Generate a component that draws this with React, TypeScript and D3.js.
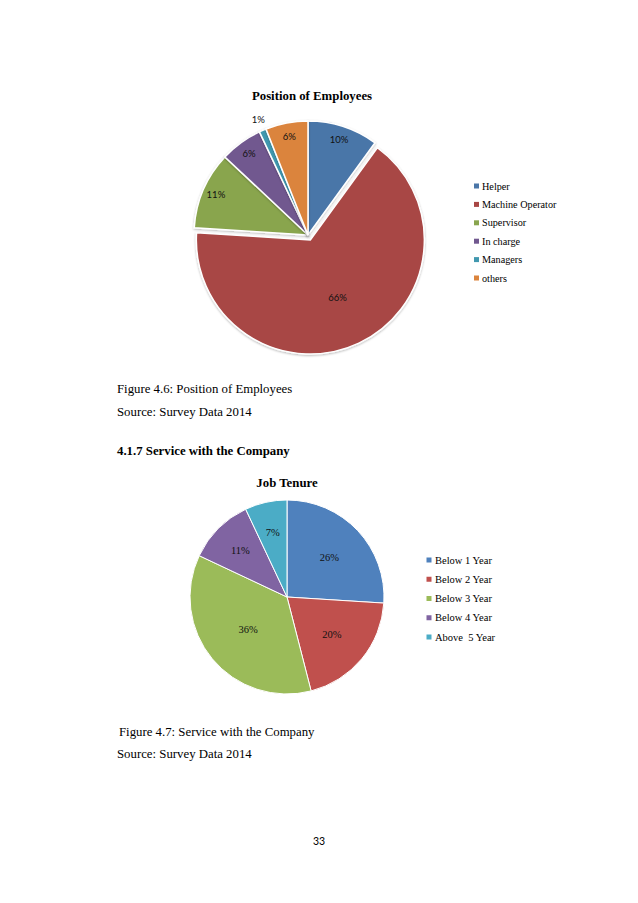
import React from 'react';
import * as d3 from 'd3';

// Figure 4.6 data
const positionLabels = ['Helper', 'Machine Operator', 'Supervisor', 'In charge', 'Managers', 'others'];
const positionValues = [10, 66, 11, 6, 1, 6];
const positionColors = ['#4a76a8', '#a84644', '#89a54e', '#71588f', '#4198af', '#db843d'];

// Figure 4.7 data
const tenureLabels = ['Below 1 Year', 'Below 2 Year', 'Below 3 Year', 'Below 4 Year', 'Above  5 Year'];
const tenureValues = [26, 20, 36, 11, 7];
const tenureColors = ['#4f81bd', '#c0504d', '#9bbb59', '#8064a2', '#4bacc6'];

const serif = '"Liberation Serif", "Times New Roman", serif';
const sans = 'Lato, "Liberation Sans", sans-serif';

type Slice = d3.PieArcDatum<number>;

const pie = d3.pie<number>().sort(null).value((d) => d);

const App: React.FC = () => {
  // chart 1 geometry
  const c1 = { x: 308, y: 235, r: 114 };
  const arc1 = d3.arc<Slice>().innerRadius(0).outerRadius(c1.r);
  const slices1 = pie(positionValues);
  const explodeIdx = 1;
  const explode = 5.5;

  const labelRadius1 = (v: number) => (v >= 50 ? 0.56 : v < 3 ? 1.1 : 0.88) * c1.r;

  // chart 2 geometry
  const c2 = { x: 287, y: 597, r: 97 };
  const arc2 = d3.arc<Slice>().innerRadius(0).outerRadius(c2.r);
  const slices2 = pie(tenureValues);
  const labelRadius2 = (v: number) => (v >= 30 ? 0.52 : v >= 15 ? 0.6 : 0.68) * c2.r;

  const offset = (s: Slice, dist: number) => {
    const a = (s.startAngle + s.endAngle) / 2;
    return [Math.sin(a) * dist, -Math.cos(a) * dist];
  };

  const legend1 = d3.scalePoint<string>().domain(positionLabels).range([186, 278]);
  const legend2 = d3.scalePoint<string>().domain(tenureLabels).range([560, 637]);

  return (
    <svg
      width={638}
      height={903}
      viewBox="0 0 638 903"
      style={{ position: 'absolute', left: 0, top: 0, background: '#fff' }}
    >
      <defs>
        <filter id="shadow" x="-20%" y="-20%" width="140%" height="140%">
          <feDropShadow dx="0" dy="1" stdDeviation="1.2" floodColor="#000" floodOpacity="0.28" />
        </filter>
      </defs>
      <rect width={638} height={903} fill="#fff" />

      {/* Figure 4.6 */}
      <text x={312} y={100} textAnchor="middle" fontFamily={serif} fontWeight="bold" fontSize={12.8} fill="#000">
        Position of Employees
      </text>
      <g transform={`translate(${c1.x},${c1.y})`}>
        {slices1.map((s, i) => {
          const [ox, oy] = i === explodeIdx ? offset(s, explode) : [0, 0];
          return (
            <path
              key={i}
              d={arc1(s) || ''}
              transform={`translate(${ox},${oy})`}
              fill={positionColors[i]}
              stroke="#fff"
              strokeWidth={1.5}
              filter="url(#shadow)"
            />
          );
        })}
        {slices1.map((s, i) => {
          const [ox, oy] = i === explodeIdx ? offset(s, explode) : [0, 0];
          const [lx, ly] = offset(s, labelRadius1(s.data));
          return (
            <text
              key={i}
              x={lx + ox}
              y={ly + oy}
              dy="0.35em"
              textAnchor="middle"
              fontFamily={sans}
              fontSize={9.5}
              fill="#111"
            >
              {positionValues[i]}%
            </text>
          );
        })}
      </g>
      {positionLabels.map((name, i) => (
        <g key={name} transform={`translate(474,${legend1(name)})`}>
          <rect x={0} y={-2.5} width={5} height={5} fill={positionColors[i]} />
          <text x={8} y={0} dy="0.35em" fontFamily={serif} fontSize={10.2} fill="#000">
            {name}
          </text>
        </g>
      ))}

      <text x={117} y={393} fontFamily={serif} fontSize={12.8} fill="#000">
        Figure 4.6: Position of Employees
      </text>
      <text x={117} y={415.5} fontFamily={serif} fontSize={12.8} fill="#000">
        Source: Survey Data 2014
      </text>
      <text x={117} y={455} fontFamily={serif} fontWeight="bold" fontSize={12.8} fill="#000">
        4.1.7 Service with the Company
      </text>

      {/* Figure 4.7 */}
      <text x={287} y={486.5} textAnchor="middle" fontFamily={serif} fontWeight="bold" fontSize={12.8} fill="#000">
        Job Tenure
      </text>
      <g transform={`translate(${c2.x},${c2.y})`}>
        {slices2.map((s, i) => (
          <path key={i} d={arc2(s) || ''} fill={tenureColors[i]} stroke="#fff" strokeWidth={1} />
        ))}
        {slices2.map((s, i) => {
          const [lx, ly] = offset(s, labelRadius2(s.data));
          return (
            <text
              key={i}
              x={lx}
              y={ly}
              dy="0.35em"
              textAnchor="middle"
              fontFamily={serif}
              fontSize={10.5}
              fill="#111"
            >
              {tenureValues[i]}%
            </text>
          );
        })}
      </g>
      {tenureLabels.map((name, i) => (
        <g key={name} transform={`translate(426.5,${legend2(name)})`}>
          <rect x={0} y={-2.5} width={5} height={5} fill={tenureColors[i]} />
          <text x={8.5} y={0} dy="0.35em" fontFamily={serif} fontSize={10.5} fill="#000" style={{ whiteSpace: 'pre' }}>
            {name}
          </text>
        </g>
      ))}

      <text x={119} y={736} fontFamily={serif} fontSize={12.8} fill="#000">
        Figure 4.7: Service with the Company
      </text>
      <text x={117} y={758} fontFamily={serif} fontSize={12.8} fill="#000">
        Source: Survey Data 2014
      </text>

      <text x={319} y={845} textAnchor="middle" fontFamily={sans} fontSize={10.5} fill="#000">
        33
      </text>
    </svg>
  );
};

export default App;
